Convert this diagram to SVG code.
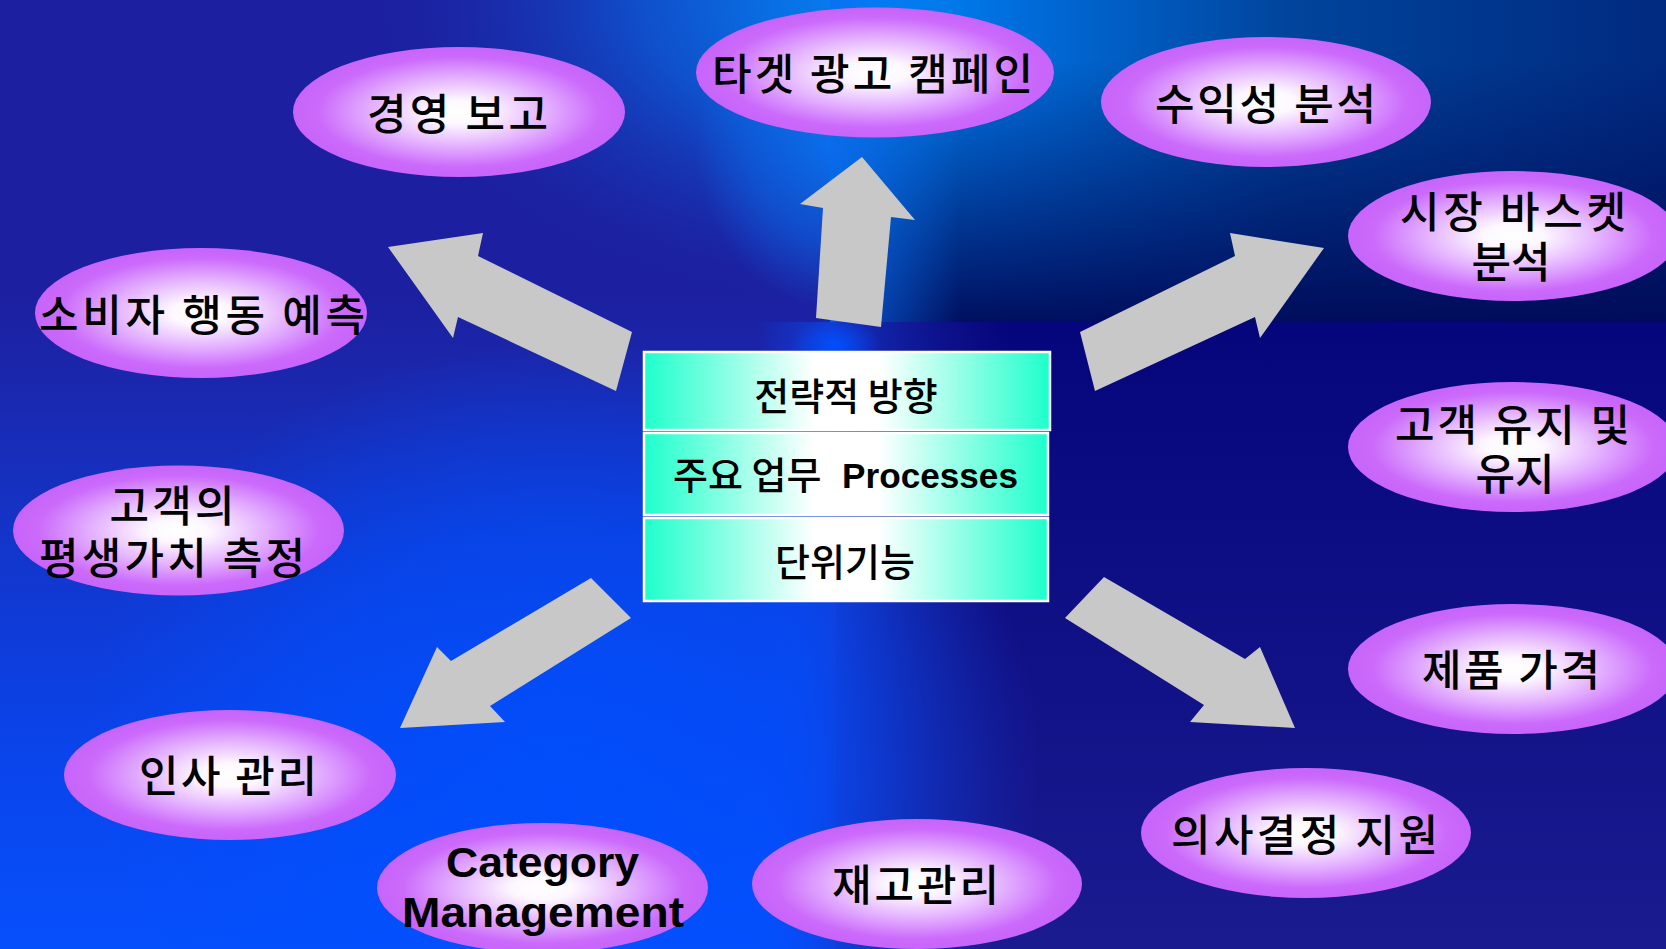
<svg xmlns="http://www.w3.org/2000/svg" width="1666" height="949" viewBox="0 0 1666 949">
<defs>
<style>
.el{fill:url(#eg)}
.et{font-family:"Noto Sans CJK KR","Noto Sans",sans-serif;font-size:43px;font-weight:500;fill:#000;text-anchor:middle}
.lt{font-family:"Liberation Sans",Arial,sans-serif;font-size:42px;font-weight:700;fill:#000;text-anchor:middle}
.bt{font-family:"Noto Sans CJK KR","Noto Sans",sans-serif;font-size:38px;font-weight:500;fill:#000;text-anchor:middle}
.row{fill:url(#rg);stroke:#fff;stroke-width:2.5}
.ar{fill:#c8c8c8}
</style>
<radialGradient id="eg" cx="0.5" cy="0.5" r="0.5">
<stop offset="0" stop-color="#ffffff"/>
<stop offset="0.18" stop-color="#fdf8ff"/>
<stop offset="0.55" stop-color="#e2acff"/>
<stop offset="0.85" stop-color="#cb6afb"/>
<stop offset="1" stop-color="#c864fa"/>
</radialGradient>
<linearGradient id="rg" x1="0" y1="0" x2="1" y2="0">
<stop offset="0" stop-color="#1effcc"/>
<stop offset="0.42" stop-color="#ffffff"/>
<stop offset="0.58" stop-color="#ffffff"/>
<stop offset="1" stop-color="#1effcc"/>
</linearGradient>
<linearGradient id="blV" gradientUnits="userSpaceOnUse" x1="0" y1="290" x2="0" y2="949">
<stop offset="0" stop-color="#1c1f9f"/>
<stop offset="0.15" stop-color="#1a28ae"/>
<stop offset="0.4" stop-color="#1236cc"/>
<stop offset="0.7" stop-color="#0a44ea"/>
<stop offset="1" stop-color="#0650fc"/>
</linearGradient>
<radialGradient id="blR" gradientUnits="userSpaceOnUse" cx="0" cy="0" r="1" gradientTransform="translate(560 760) scale(480 420)">
<stop offset="0" stop-color="#0050ff" stop-opacity="0.8"/>
<stop offset="0.55" stop-color="#0050ff" stop-opacity="0.55"/>
<stop offset="1" stop-color="#0050ff" stop-opacity="0"/>
</radialGradient>
<radialGradient id="tlG" gradientUnits="userSpaceOnUse" cx="0" cy="0" r="1" gradientTransform="translate(900 0) scale(560 330)">
<stop offset="0" stop-color="#0096ff" stop-opacity="1"/>
<stop offset="0.45" stop-color="#0a66e0" stop-opacity="0.7"/>
<stop offset="1" stop-color="#1c1f9f" stop-opacity="0"/>
</radialGradient>
<radialGradient id="tlB" gradientUnits="userSpaceOnUse" cx="0" cy="0" r="1" gradientTransform="translate(835 140) scale(140 170)">
<stop offset="0" stop-color="#0a74f0" stop-opacity="0.85"/>
<stop offset="0.6" stop-color="#0a6ae8" stop-opacity="0.5"/>
<stop offset="1" stop-color="#0a6ae8" stop-opacity="0"/>
</radialGradient>
<radialGradient id="spot" gradientUnits="userSpaceOnUse" cx="0" cy="0" r="1" gradientTransform="translate(835 345) scale(45 28)">
<stop offset="0" stop-color="#0050ff" stop-opacity="0.95"/>
<stop offset="1" stop-color="#0050ff" stop-opacity="0"/>
</radialGradient>
<linearGradient id="trH" gradientUnits="userSpaceOnUse" x1="830" y1="0" x2="1666" y2="0">
<stop offset="0" stop-color="#0092ff"/>
<stop offset="0.2" stop-color="#0070e0"/>
<stop offset="0.55" stop-color="#00449c"/>
<stop offset="1" stop-color="#002a80"/>
</linearGradient>
<linearGradient id="trV" gradientUnits="userSpaceOnUse" x1="0" y1="60" x2="0" y2="322">
<stop offset="0" stop-color="#000a58" stop-opacity="0"/>
<stop offset="1" stop-color="#000a58" stop-opacity="0.95"/>
</linearGradient>
<linearGradient id="trB" gradientUnits="userSpaceOnUse" x1="830" y1="0" x2="960" y2="0">
<stop offset="0" stop-color="#0a6cf0" stop-opacity="0.85"/>
<stop offset="1" stop-color="#0a6cf0" stop-opacity="0"/>
</linearGradient>
<linearGradient id="brV" x1="0" y1="0" x2="0" y2="1">
<stop offset="0" stop-color="#06067c"/>
<stop offset="1" stop-color="#1b1b90"/>
</linearGradient>
<linearGradient id="mid" gradientUnits="userSpaceOnUse" x1="760" y1="0" x2="1010" y2="0">
<stop offset="0" stop-color="#0848f0" stop-opacity="0"/>
<stop offset="0.3" stop-color="#1638cc" stop-opacity="0.9"/>
<stop offset="1" stop-color="#1a1c90" stop-opacity="0"/>
</linearGradient>
</defs>

<g id="background">
<rect x="0" y="0" width="1666" height="949" fill="#1c1f9f"/>
<rect x="0" y="290" width="840" height="659" fill="url(#blV)"/>
<rect x="0" y="0" width="840" height="322" fill="url(#tlG)"/>
<rect x="680" y="0" width="160" height="322" fill="url(#tlB)"/>
<rect x="830" y="0" width="836" height="322" fill="url(#trH)"/>
<rect x="830" y="0" width="836" height="322" fill="url(#trV)"/>
<rect x="830" y="0" width="130" height="322" fill="url(#trB)"/>
<rect x="836" y="322" width="830" height="627" fill="url(#brV)"/>
<rect x="760" y="322" width="250" height="627" fill="url(#mid)"/>
<rect x="0" y="330" width="1666" height="619" fill="url(#blR)"/>
<rect x="780" y="310" width="110" height="70" fill="url(#spot)"/>
</g>

<g id="connectors">
<polygon class="ar" points="816,318 823,208 800,204 862,157 915,220 891,217 881,327"/>
<polygon class="ar" points="616,391 458,317 453,338 388,247 483,233 478,256 632,332"/>
<polygon class="ar" points="1095,391 1080,332 1235,256 1230,233 1324,248 1260,338 1255,317"/>
<polygon class="ar" points="591,578 631,618 490,706 505,722 400,728 437,647 451,661"/>
<polygon class="ar" points="1104,577 1065,618 1204,705 1190,722 1295,728 1260,647 1245,659"/>
</g>

<g id="center">
<rect class="row" x="644" y="352" width="406" height="78"/>
<rect class="row" x="644" y="433" width="404" height="82"/>
<rect class="row" x="644" y="518" width="404" height="83"/>
<text class="bt" x="846" y="410">전략적 방향</text>
<text class="bt" style="text-anchor:start"><tspan x="673" y="489">주요 업무 </tspan><tspan x="842" y="488" font-family="'Liberation Sans', Arial, sans-serif" font-weight="700" font-size="35" textLength="176" lengthAdjust="spacingAndGlyphs">Processes</tspan></text>
<text class="bt" x="845" y="576">단위기능</text>
</g>

<g id="n-report">
<ellipse class="el" cx="459" cy="112" rx="166" ry="65"/>
<text class="et" x="457.5" y="130" textLength="181" lengthAdjust="spacing">경영 보고</text>
</g>
<g id="n-target">
<ellipse class="el" cx="875" cy="72.5" rx="179" ry="65"/>
<text class="et" x="872.5" y="90" textLength="321" lengthAdjust="spacing">타겟 광고 캠페인</text>
</g>
<g id="n-profit">
<ellipse class="el" cx="1266" cy="102" rx="165" ry="65"/>
<text class="et" x="1265.5" y="120" textLength="221" lengthAdjust="spacing">수익성 분석</text>
</g>
<g id="n-basket">
<ellipse class="el" cx="1513" cy="236" rx="165" ry="65"/>
<text class="et"><tspan x="1513" y="228" textLength="226" lengthAdjust="spacing">시장 바스켓</tspan><tspan x="1511" y="278">분석</tspan></text>
</g>
<g id="n-retain">
<ellipse class="el" cx="1513" cy="447" rx="165" ry="65"/>
<text class="et"><tspan x="1512.5" y="441" textLength="235" lengthAdjust="spacing">고객 유지 및</tspan><tspan x="1515" y="490">유지</tspan></text>
</g>
<g id="n-price">
<ellipse class="el" cx="1513" cy="669" rx="165" ry="65"/>
<text class="et" x="1511" y="686" textLength="178" lengthAdjust="spacing">제품 가격</text>
</g>
<g id="n-decision">
<ellipse class="el" cx="1306" cy="833" rx="165" ry="65"/>
<text class="et" x="1304.5" y="851" textLength="267" lengthAdjust="spacing">의사결정 지원</text>
</g>
<g id="n-inventory">
<ellipse class="el" cx="917" cy="884" rx="165" ry="65"/>
<text class="et" x="915.5" y="901" textLength="167" lengthAdjust="spacing">재고관리</text>
</g>
<g id="n-category">
<ellipse class="el" cx="542.5" cy="888" rx="165.5" ry="65"/>
<text class="lt"><tspan x="542.5" y="877" textLength="193" lengthAdjust="spacingAndGlyphs">Category</tspan><tspan x="543" y="927" textLength="282" lengthAdjust="spacingAndGlyphs">Management</tspan></text>
</g>
<g id="n-hr">
<ellipse class="el" cx="230" cy="775" rx="166" ry="65"/>
<text class="et" x="228" y="792" textLength="178" lengthAdjust="spacing">인사 관리</text>
</g>
<g id="n-ltv">
<ellipse class="el" cx="178.5" cy="530.5" rx="165.5" ry="65"/>
<text class="et"><tspan x="172" y="522" textLength="125" lengthAdjust="spacing">고객의</tspan><tspan x="172" y="574" textLength="266" lengthAdjust="spacing">평생가치 측정</tspan></text>
</g>
<g id="n-behavior">
<ellipse class="el" cx="201" cy="313" rx="166" ry="65"/>
<text class="et" x="202" y="331" textLength="326" lengthAdjust="spacing">소비자 행동 예측</text>
</g>
</svg>
